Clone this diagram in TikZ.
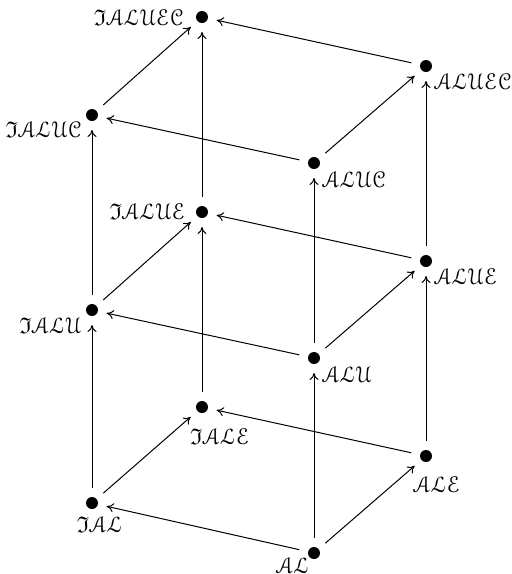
\documentclass[tikz,border=0pt]{standalone}
\usepackage{amssymb}
\usepackage{eucal}
\usepackage{graphicx}
\usetikzlibrary{arrows.meta}
\newcommand{\lbltxt}[1]{\scalebox{1.13}{$#1$}}
\begin{document}
\begin{tikzpicture}[x=0.5pt,y=-0.5pt,
  dot/.style={circle,fill=black,inner sep=0pt,minimum size=6pt,outer sep=4.5pt},
  lab/.style={inner sep=0pt,font=\normalsize},
  arr/.style={-{Computer Modern Rightarrow[length=3.5pt,width=4.5pt]},line width=0.5pt}]
\useasboundingbox (0,0) rectangle (512,574);
% dots
\node[dot] (IALUEC) at (202,17) {};
\node[dot] (ALUEC) at (426,66) {};
\node[dot] (IALUC) at (92,115) {};
\node[dot] (ALUC) at (314,163) {};
\node[dot] (IALUE) at (202,212) {};
\node[dot] (ALUE) at (426,261) {};
\node[dot] (IALU) at (92,310) {};
\node[dot] (ALU) at (314,358) {};
\node[dot] (IALE) at (202,407) {};
\node[dot] (ALE) at (426,456) {};
\node[dot] (IAL) at (92,503) {};
\node[dot] (AL) at (314,553) {};
% labels
\node[lab,anchor=east] (lIALUEC) at (184,18) {\lbltxt{\mathfrak{I}\mathcal{ALUEC}}};
\node[lab,anchor=west] (lALUEC) at (434,82) {\lbltxt{\mathcal{ALUEC}}};
\node[lab,anchor=east] (lIALUC) at (82,130) {\lbltxt{\mathfrak{I}\mathcal{ALUC}}};
\node[lab,anchor=west] (lALUC) at (322,180) {\lbltxt{\mathcal{ALUC}}};
\node[lab,anchor=east] (lIALUE) at (186,212) {\lbltxt{\mathfrak{I}\mathcal{ALUE}}};
\node[lab,anchor=west] (lALUE) at (434,277) {\lbltxt{\mathcal{ALUE}}};
\node[lab,anchor=east] (lIALU) at (82,326) {\lbltxt{\mathfrak{I}\mathcal{ALU}}};
\node[lab,anchor=west] (lALU) at (322,375) {\lbltxt{\mathcal{ALU}}};
\node[lab] (lIALE) at (220,437) {\lbltxt{\mathfrak{I}\mathcal{ALE}}};
\node[lab] (lALE) at (437,485) {\lbltxt{\mathcal{ALE}}};
\node[lab] (lIAL) at (100,525) {\lbltxt{\mathfrak{I}\mathcal{AL}}};
\node[lab] (lAL) at (293,566) {\lbltxt{\mathcal{AL}}};
% edges
\draw[arr] (AL) -- (IAL);
\draw[arr] (AL) -- (ALU);
\draw[arr] (AL) -- (ALE);
\draw[arr] (IAL) -- (IALU);
\draw[arr] (IAL) -- (IALE);
\draw[arr] (ALE) -- (IALE);
\draw[arr] (ALE) -- (ALUE);
\draw[arr] (IALE) -- (IALUE);
\draw[arr] (ALU) -- (IALU);
\draw[arr] (ALU) -- (ALUE);
\draw[arr] (ALU) -- (ALUC);
\draw[arr] (IALU) -- (IALUE);
\draw[arr] (IALU) -- (IALUC);
\draw[arr] (ALUE) -- (IALUE);
\draw[arr] (ALUE) -- (ALUEC);
\draw[arr] (IALUE) -- (IALUEC);
\draw[arr] (ALUC) -- (IALUC);
\draw[arr] (ALUC) -- (ALUEC);
\draw[arr] (IALUC) -- (IALUEC);
\draw[arr] (ALUEC) -- (IALUEC);
\end{tikzpicture}
\end{document}
